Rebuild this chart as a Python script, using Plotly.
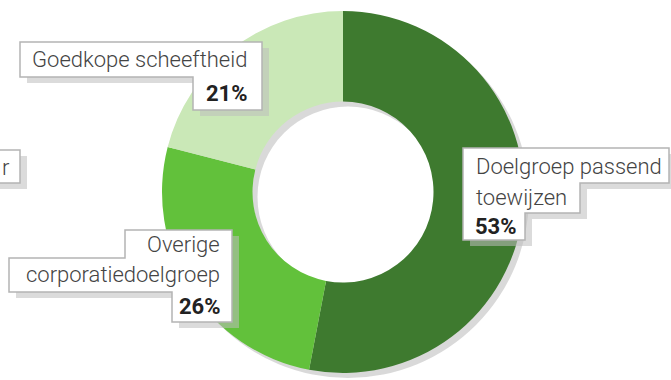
import plotly.graph_objects as go

# Share of allocations per category
labels = ["Doelgroep passend toewijzen", "Overige corporatiedoelgroep", "Goedkope scheeftheid"]
values = [53, 26, 21]
colors = ["#3e7a2f", "#62c13b", "#cae8b7"]

W, H = 671, 380
cx, cy, r = 343, 192, 181

FONT = "Roboto"
TXT = "#444444"
BOLD = "#222222"
BORDER = "#b4b4b4"
SHADOW = "rgba(190,190,190,0.55)"

fig = go.Figure()

dom_x = [(cx - r) / W, (cx + r) / W]
dom_y = [1 - (cy + r) / H, 1 - (cy - r) / H]

# soft drop shadow of the ring, offset down-right
off = 5
fig.add_trace(go.Pie(
    values=[1], labels=["shadow"], hole=0.5, sort=False,
    marker=dict(colors=["rgba(170,170,170,0.45)"], line=dict(width=0)),
    textinfo="none", hoverinfo="skip", showlegend=False,
    domain=dict(x=[(cx - r + off) / W, (cx + r + off) / W],
                y=[1 - (cy + r + off) / H, 1 - (cy - r + off) / H]),
))

fig.add_trace(go.Pie(
    values=values, labels=labels, hole=0.5, sort=False,
    direction="clockwise", rotation=0,
    marker=dict(colors=colors, line=dict(width=0)),
    textinfo="none", showlegend=False,
    domain=dict(x=dom_x, y=dom_y),
))

# stepped callout outlines (pixel coordinates)
boxes = [
    [(20, 42), (262, 42), (262, 110), (193, 110), (193, 77), (20, 77)],
    [(125, 230), (232, 230), (232, 322), (172, 322), (172, 292), (9, 292), (9, 258), (125, 258)],
    [(463, 148), (669, 148), (669, 183), (580, 183), (580, 213), (525, 213), (525, 240), (463, 240)],
    [(-10, 150), (20, 150), (20, 183), (-10, 183)],
]


def path(pts, dx=0, dy=0):
    return "M " + " L ".join(f"{x + dx},{y + dy}" for x, y in pts) + " Z"


shapes = []
for pts in boxes:
    shapes.append(dict(type="path", path=path(pts, 7, 6), xref="x", yref="y",
                       fillcolor=SHADOW, line=dict(width=0), layer="above"))
for pts in boxes:
    shapes.append(dict(type="path", path=path(pts), xref="x", yref="y",
                       fillcolor="white", line=dict(color=BORDER, width=1.5), layer="above"))

ann = []


def add(text, x, y, anchor, bold=False, size=22):
    ann.append(dict(x=x, y=y, xref="x", yref="y", text=text, showarrow=False,
                    xanchor=anchor, yanchor="middle",
                    font=dict(family=FONT, size=size,
                              color=BOLD if bold else TXT,
                              weight=700 if bold else 300)))


add("Goedkope scheeftheid", 249, 59, "right")
add(f"<b>{values[2]}%</b>", 250, 93, "right", bold=True)

add("Overige", 222, 244, "right")
add("corporatiedoelgroep", 222, 274, "right")
add(f"<b>{values[1]}%</b>", 223, 306, "right", bold=True)

add("Doelgroep passend", 474, 166, "left")
add("toewijzen", 474, 197, "left")
add(f"<b>{values[0]}%</b>", 473, 226, "left", bold=True)

add("r", 12, 167, "right")

fig.update_layout(
    width=W, height=H,
    margin=dict(l=0, r=0, t=0, b=0),
    paper_bgcolor="white", plot_bgcolor="rgba(0,0,0,0)",
    xaxis=dict(range=[0, W], visible=False, fixedrange=True),
    yaxis=dict(range=[H, 0], visible=False, fixedrange=True),
    shapes=shapes, annotations=ann,
    showlegend=False,
)

fig.write_html("out.html")
